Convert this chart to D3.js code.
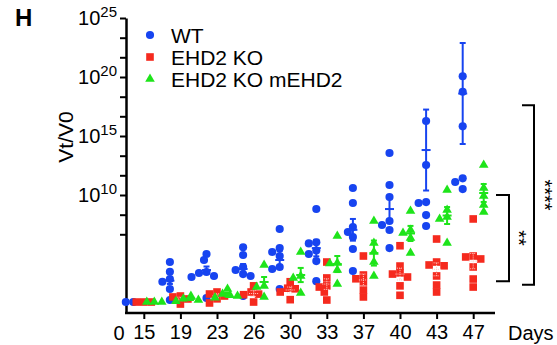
<!DOCTYPE html>
<html>
<head>
<meta charset="utf-8">
<script src="https://cdn.jsdelivr.net/npm/d3@7"></script>
<style>
  body { margin: 0; background: #fff; }
  svg { display: block; }
  text { font-family: Arial, "Liberation Sans", sans-serif; fill: #000; }
</style>
</head>
<body>
<div id="chart"></div>
<script>
// days with tumour measurements (the "0" on the axis is just a label)
const days = ["15", "19", "23", "26", "30", "33", "37", "40", "43", "47"];
const groups = ["WT", "EHD2 KO", "EHD2 KO mEHD2"];

// log10(Vt/V0) for each mouse, one list per day
const wtLog = [
  [0.93, 0.93],
  [4.32, 3.5, 2.88, 2.65, 2.03, 1.1],
  [5.0, 4.49, 3.47, 3.39, 3.14, 3.05, 1.27],
  [5.57, 4.92, 3.9, 3.64, 3.3, 3.14, 1.44],
  [7.12, 5.5, 5.17, 4.83, 3.9, 3.73, 2.03],
  [8.81, 6.0, 5.9, 5.3, 5.0, 4.4, 2.7],
  [10.59, 9.32, 7.29, 6.86, 6.44, 5.42, 3.56],
  [13.56, 10.85, 9.83, 7.8, 7.46, 7.03, 5.5],
  [16.27, 12.54, 9.4, 9.32, 8.3, 7.37],
  [20.06, 18.75, 15.82, 11.41, 11.1, 10.5]
];
const koLog = [
  [0.93, 0.93, 0.93],
  [1.44, 1.36, 1.19, 0.76],
  [1.78, 1.61, 1.44, 1.2, 0.85],
  [2.3, 1.78, 1.6, 1.55, 0.93],
  [2.65, 2.1, 2.05, 1.78, 1.13],
  [4.32, 2.97, 2.3, 2.2, 1.78, 1.1],
  [4.83, 3.22, 2.9, 2.63, 1.95, 1.36],
  [5.7, 3.98, 3.4, 3.3, 3.05, 2.3, 1.5],
  [6.27, 4.32, 4.07, 4.0, 3.14, 2.37, 1.78],
  [7.97, 4.83, 4.75, 4.58, 3.9, 2.88, 2.2]
];
const resLog = [
  [0.93, 0.93, 0.93],
  [1.44, 1.2, 1.1, 1.0],
  [2.03, 1.61, 1.5, 1.44, 1.3],
  [4.07, 2.3, 2.2, 1.36],
  [5.17, 3.14, 2.97, 1.7],
  [6.53, 4.24, 4.2, 3.64, 2.46],
  [7.8, 5.93, 5.17, 4.32, 3.14],
  [8.64, 7.03, 6.78, 6.36, 5.08],
  [10.42, 8.73, 8.14, 7.97, 5.93],
  [12.54, 10.59, 9.92, 9.15, 8.56]
];

// mean and error bar half length (log10), as drawn
const wtMean = [0.93, 2.74, 3.64, 3.73, 4.49, 5.5, 7.05, 8.81, 13.81, 18.6];
const wtErr = [0, 0.28, 0.3, 0.42, 0.76, 0.7, 0.92, 1.02, 3.43, 4.28];
const koMean = [0.93, 1.19, 1.45, 1.65, 1.95, 2.45, 2.8, 3.3, 3.7, 4.4];
const koErr = [0, 0.15, 0.17, 0.25, 0.25, 0.45, 0.5, 0.5, 0.55, 0.65];
const resMean = [0.93, 1.2, 1.55, 2.63, 3.22, 4.15, 5.08, 6.74, 8.26, 10.17];
const resErr = [0, 0.1, 0.15, 0.42, 0.6, 0.68, 1.06, 0.64, 0.72, 0.76];

const yTickExp = [25, 23.33, 21.67, 20, 18.33, 16.67, 15, 13.33, 11.67, 10, 8.33, 6.67];
const yLabelExp = [25, 20, 15, 10];

// significance brackets (log10 ends)
const sigTop = [10, 17.6];
const sigBottom = [2.7, 2.4];
const sigLabel = ["**", "****"];

const width = 557, height = 345;

const svg = d3.select("#chart").append("svg")
  .attr("width", width)
  .attr("height", height);

const y = d3.scaleLog().domain([1, 1e25]).range([313, 18]);
const yv = e => y(Math.pow(10, e));
const x = d3.scaleBand().domain(days).range([126, 492]);
const gx = d3.scalePoint().domain(groups).range([-11, 10]);
const color = d3.scaleOrdinal().domain(groups).range(["#1744f0", "#f52a1e", "#1ee41a"]);
const shape = d3.scaleOrdinal().domain(groups)
  .range([d3.symbol().type(d3.symbolCircle).size(52),
          d3.symbol().type(d3.symbolSquare).size(58),
          d3.symbol().type(d3.symbolTriangle).size(40)]);

// y axis
const yAxis = svg.append("g")
  .attr("transform", "translate(126,0)")
  .call(d3.axisLeft(y)
    .tickValues(yTickExp.map(e => Math.pow(10, e)))
    .tickSize(6).tickSizeOuter(0).tickFormat(""));
yAxis.select(".domain").attr("stroke-width", 2.5);
yAxis.selectAll(".tick line").attr("stroke-width", 2);

yLabelExp.forEach(e => {
  const t = svg.append("text")
    .attr("x", 117)
    .attr("y", yv(e) + 7)
    .attr("text-anchor", "end");
  t.append("tspan").style("font-size", "20px").text("10");
  t.append("tspan").style("font-size", "15px").attr("dy", -8).text(e);
});

svg.append("text")
  .attr("transform", "translate(73,137) rotate(-90)")
  .attr("text-anchor", "middle")
  .style("font-size", "21px")
  .text("Vt/V0");

// x axis
const xAxis = svg.append("g")
  .attr("transform", "translate(0,313)")
  .call(d3.axisBottom(x).tickSize(6).tickSizeOuter(0).tickPadding(6));
xAxis.select(".domain").attr("d", "M125,0H495").attr("stroke-width", 2.5);
xAxis.selectAll(".tick line").attr("stroke-width", 2);
xAxis.selectAll(".tick text").style("font-size", "20px").attr("font-family", null);

svg.append("text").attr("x", 119).attr("y", 340)
  .attr("text-anchor", "middle").style("font-size", "20px").text("0");
svg.append("text").attr("x", 508).attr("y", 340)
  .style("font-size", "20px").text("Days");

svg.append("text").attr("x", 15).attr("y", 26)
  .style("font-size", "24px").style("font-weight", "bold").text("H");

// simple swarm so close values spread sideways
function swarm(vals, cx) {
  const placed = [];
  const pts = vals.map(v => ({v: v, y: yv(v)})).sort((a, b) => a.y - b.y);
  pts.forEach(p => {
    for (let k = 0; k < 30; k++) {
      const off = k === 0 ? 0 : (k % 2 ? -1 : 1) * Math.ceil(k / 2) * 2.5;
      const px = cx + off;
      if (placed.every(q => Math.hypot(px - q.x, p.y - q.y) >= 6.5)) {
        p.x = px;
        break;
      }
    }
    placed.push(p);
  });
  return placed;
}

const series = [
  {name: "WT", vals: wtLog, mean: wtMean, err: wtErr},
  {name: "EHD2 KO", vals: koLog, mean: koMean, err: koErr},
  {name: "EHD2 KO mEHD2", vals: resLog, mean: resMean, err: resErr}
];

series.forEach(s => {
  const g = svg.append("g");
  const c = color(s.name);
  days.forEach((d, i) => {
    const cx = x(d) + x.bandwidth() / 2 + gx(s.name);
    g.selectAll(null)
      .data(swarm(s.vals[i], cx))
      .enter().append("path")
      .attr("d", shape(s.name))
      .attr("transform", p => "translate(" + p.x + "," + p.y + ")")
      .attr("fill", c);

    if (s.err[i] > 0) {
      const top = yv(s.mean[i] + s.err[i]),
            bot = yv(s.mean[i] - s.err[i]),
            mid = yv(s.mean[i]);
      const ko = s.name === "EHD2 KO";
      const eb = g.append("g")
        .attr("stroke", ko ? "#ffc9c2" : c)
        .attr("stroke-width", ko ? 1 : 2)
        .attr("stroke-dasharray", ko ? "1,1" : null);
      eb.append("line").attr("x1", cx).attr("x2", cx).attr("y1", top).attr("y2", bot);
      eb.append("line").attr("x1", cx - 3).attr("x2", cx + 3).attr("y1", top).attr("y2", top);
      eb.append("line").attr("x1", cx - 3).attr("x2", cx + 3).attr("y1", bot).attr("y2", bot);
      eb.append("line").attr("x1", cx - 4.5).attr("x2", cx + 4.5).attr("y1", mid).attr("y2", mid);
    }
  });
});

// legend
const legend = svg.append("g");
groups.forEach((gname, i) => {
  const ly = 43 + i * 22;
  legend.append("path")
    .attr("d", shape(gname))
    .attr("transform", "translate(150," + (ly - 8) + ")")
    .attr("fill", color(gname));
  legend.append("text")
    .attr("x", 171).attr("y", ly)
    .style("font-size", "21px")
    .text(gname);
});

// significance brackets
const bx = [[496, 509], [522, 534]];
const starX = [523, 549];
sigLabel.forEach((lab, i) => {
  const t = yv(sigTop[i]), b = yv(sigBottom[i]);
  svg.append("path")
    .attr("d", "M" + bx[i][0] + "," + t + "H" + bx[i][1] + "V" + b + "H" + bx[i][0])
    .attr("fill", "none")
    .attr("stroke", "#000")
    .attr("stroke-width", 2);
  svg.append("text")
    .attr("transform", "translate(" + (starX[i] - 4) + "," + ((t + b) / 2) + ") rotate(90)")
    .attr("text-anchor", "middle")
    .attr("dominant-baseline", "central")
    .style("font-size", "20px")
    .text(lab);
});
</script>
</body>
</html>
